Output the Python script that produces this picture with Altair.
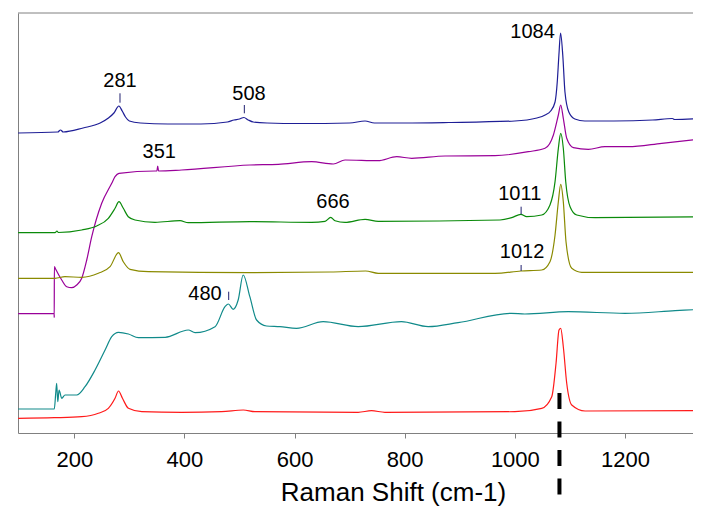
import altair as alt
import pandas as pd

# ---- spectra (Raman shift in cm-1, intensity in arbitrary offset units) ----
blue_x = [98, 170, 175, 180, 216, 247, 262, 272, 281, 287, 293, 300, 320, 370, 430, 478, 490, 500, 508, 516, 525, 550, 610, 700, 728, 745, 800, 880, 1000, 1040, 1055, 1065, 1073, 1077, 1080, 1083, 1087, 1091, 1098, 1109, 1127, 1180, 1250, 1286, 1290, 1338]
blue_y = [300, 301, 303, 301, 305, 310, 315, 320, 327, 322, 316, 312, 310, 309, 309, 311, 313, 314, 315.5, 313, 311, 310, 309.5, 310, 312, 310, 310, 310.5, 312, 315, 318, 322, 331, 351, 378, 400, 378, 341, 321, 314, 312, 312, 313, 314.5, 313.5, 314.5]

purple_x = [98, 163.5, 163.6, 163.8, 166.3, 177.2, 186.3, 195.3, 204.4, 213.5, 222.6, 231.7, 249.8, 268, 274, 281.2, 346.6, 350, 351.5, 353, 395, 519, 570.5, 631, 670.4, 691.6, 751.5, 785.5, 812.8, 873.2, 964, 1024.5, 1054.8, 1070, 1079, 1083.3, 1088, 1094.2, 1106.3, 1133.5, 1163.7, 1206, 1266.7, 1338]
purple_y = [119.3, 119.3, 115.5, 166.5, 163.7, 153, 146.3, 145.3, 148, 154.7, 173, 196.3, 229.7, 249.7, 256.3, 259.7, 262, 262, 267, 262, 263, 268, 268.7, 271.3, 269, 273, 272.3, 276.3, 274.7, 277, 277.3, 281.3, 284.7, 298, 318, 328, 314.7, 294.7, 285.3, 283.7, 286.3, 286.3, 289.7, 294]

green_x = [98, 165, 168.6, 171, 213.5, 240.7, 261.8, 274, 281.2, 289, 298, 310.3, 346.6, 392, 407, 519, 631, 655.3, 665.7, 673.5, 691.6, 728, 752, 973, 994.3, 1011, 1021.5, 1048.8, 1063.8, 1073, 1079, 1083.3, 1088, 1092.4, 1100.3, 1112.4, 1145.8, 1338]
green_y = [200.3, 200.3, 202, 200.5, 203, 207, 214.7, 224.7, 231.3, 224.7, 216.3, 213, 210.7, 212.3, 210.3, 211.3, 210.7, 211.7, 215.7, 212.3, 210.7, 213.7, 211.7, 213, 215.3, 218.7, 216.3, 218, 228, 251.3, 284.7, 299.7, 284.7, 251.3, 226.3, 218, 215.3, 216.3]

olive_x = [98, 165, 183, 213.5, 243.7, 265, 280.3, 289, 301.3, 334.5, 519, 665.5, 729, 752, 964, 1011, 1048.8, 1063.8, 1073, 1079, 1083.3, 1088, 1092.9, 1103.3, 1121.4, 1338]
olive_y = [154.7, 154.7, 156.3, 155.7, 159.7, 166.3, 180.3, 171.3, 163.7, 161.3, 160.3, 161, 162, 159.7, 159.7, 162, 163, 171.3, 198, 231.3, 248.7, 231.3, 191.3, 164.7, 160.7, 160.7]

teal_x = [98, 163.7, 166.3, 168, 170, 172.4, 177.2, 183.2, 204.4, 219.5, 237.7, 255.9, 268, 280.3, 298.3, 316.5, 365, 407, 419.3, 455.6, 473.7, 479.8, 488.5, 497.6, 506.7, 518.8, 531, 549, 573.4, 603.5, 652, 715.5, 794, 842.6, 897, 994, 1018, 1097, 1200, 1291, 1338]
teal_y = [24, 24, 39.7, 49.7, 31.3, 43, 34.7, 38, 38, 46.3, 63, 83, 96.3, 100.7, 99, 95.3, 95.7, 103, 100.3, 106.3, 126.3, 129, 123.7, 133, 158, 136.3, 113, 107, 106.3, 104.7, 111.3, 106.3, 111.3, 106.3, 110.3, 119.7, 119, 121.3, 119.7, 122.3, 123.7]

red_x = [98, 163.7, 213.5, 243.7, 261.8, 274, 280.3, 287.5, 298.3, 322.6, 395, 467.6, 506.9, 528, 715.5, 739.7, 764, 1000, 1048.8, 1067, 1074.8, 1080.2, 1083.3, 1088, 1094.2, 1103.3, 1127.5, 1338]
red_y = [14.7, 15.3, 16.3, 19.7, 24.7, 34.7, 42, 34.7, 24.7, 21.3, 20.7, 21.3, 23, 21.3, 20.7, 22.3, 20.7, 21.3, 24.7, 36.3, 69.7, 103, 104.7, 86.3, 49.7, 28, 22, 22.3]

series_names = ["blue", "purple", "green", "olive", "teal", "red"]
series_colors = ["#1e1e96", "#990099", "#0a8a0a", "#8a8a00", "#108a8a", "#ff1a1a"]
series_x = [blue_x, purple_x, green_x, olive_x, teal_x, red_x]
series_y = [blue_y, purple_y, green_y, olive_y, teal_y, red_y]

# ---- peak annotations ----
label_text = ["281", "508", "351", "666", "1011", "1012", "1084", "480"]
label_x = [283.0, 517.3, 354.4, 669.8, 1008.9, 1013.1, 1032.1, 437.4]
label_y = [345.7, 333, 274.7, 224.7, 233, 175.3, 394.7, 133]

mark_x = [283.0, 508.8, 1011.4, 1011.4, 480.4]
mark_y1 = [330.3, 319.7, 218.7, 162, 133]
mark_y2 = [339.7, 328, 226.3, 168, 141.3]

ref_x = [1081]
ref_y1 = [40]
ref_y2 = [-95]

x_ticks = [200, 400, 600, 800, 1000, 1200]
x_domain = [97.8, 1323.5]
y_domain = [0, 420]

rows = []
for name, xs, ys in zip(series_names, series_x, series_y):
    for i, (a, b) in enumerate(zip(xs, ys)):
        rows.append({"series": name, "shift": a, "intensity": b, "idx": i})
df = pd.DataFrame(rows)

FONT = "Liberation Sans"
GRAY = "#808080"
xscale = alt.Scale(domain=x_domain, nice=False, zero=False)
yscale = alt.Scale(domain=y_domain, nice=False, zero=False)

lines = alt.Chart(df).mark_line(strokeWidth=1.2, interpolate="monotone").encode(
    x=alt.X("shift:Q", scale=xscale,
            axis=alt.Axis(values=x_ticks, format="d", title="Raman Shift (cm-1)", grid=False,
                          tickSize=5, tickColor=GRAY, domainColor=GRAY,
                          labelFont=FONT, labelFontSize=22, labelColor="black",
                          labelPadding=11, titleFont=FONT, titleFontSize=26,
                          titleFontWeight="normal", titleColor="black",
                          titleX=375, titleY=67, titleBaseline="alphabetic",
                          titleAlign="center")),
    y=alt.Y("intensity:Q", scale=yscale,
            axis=alt.Axis(title=None, labels=False, ticks=False, grid=False,
                          domainColor=GRAY)),
    color=alt.Color("series:N", scale=alt.Scale(domain=series_names, range=series_colors), legend=None),
    order=alt.Order("idx:Q"),
)

top_line = alt.Chart(pd.DataFrame({"k": [0]})).mark_rule(color=GRAY, strokeWidth=1).encode(
    x=alt.value(0), x2=alt.value(700), y=alt.value(0))

marks_df = pd.DataFrame({"x": mark_x, "y1": mark_y1, "y2": mark_y2})
peak_ticks = alt.Chart(marks_df).mark_rule(color="#202070", strokeWidth=1).encode(
    x=alt.X("x:Q", scale=xscale), y=alt.Y("y1:Q", scale=yscale), y2="y2:Q")

labels_df = pd.DataFrame({"x": label_x, "y": label_y, "t": label_text})
labels = alt.Chart(labels_df).mark_text(font=FONT, fontSize=20, color="black",
                                        baseline="alphabetic", align="center").encode(
    x=alt.X("x:Q", scale=xscale), y=alt.Y("y:Q", scale=yscale), text="t:N")

ref_df = pd.DataFrame({"x": ref_x, "y1": ref_y1, "y2": ref_y2})
ref = alt.Chart(ref_df).mark_rule(color="black", strokeWidth=4, strokeDash=[16, 12.5]).encode(
    x=alt.X("x:Q", scale=xscale), y=alt.Y("y1:Q", scale=yscale), y2="y2:Q")

chart = alt.layer(lines, top_line, peak_ticks, labels, ref).properties(
    width=675, height=420,
    autosize=alt.AutoSizeParams(type="none"),
    padding={"left": 10, "top": 5, "right": 0, "bottom": 73},
    background="white",
).configure_view(stroke=None)

chart.save("out.html", embed_options={"renderer": "svg", "actions": False})
